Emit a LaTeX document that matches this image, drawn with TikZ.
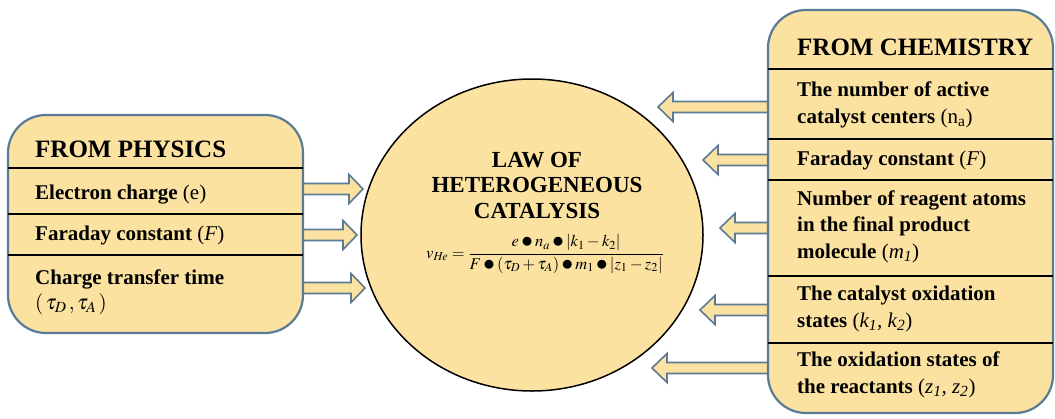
\documentclass[tikz,border=0pt]{standalone}
\usepackage{mathptmx}
\usepackage{fontspec}
\setmainfont{Liberation Serif}
\usetikzlibrary{shapes.geometric}
\definecolor{fillc}{RGB}{252,226,160}
\definecolor{edgec}{RGB}{90,122,150}
\tikzset{
  panel/.style={draw=edgec, fill=fillc, line width=2.2pt, rounded corners=38pt},
  divider/.style={draw=black, line width=1.3pt},
  law/.style={draw=black, fill=fillc, line width=1.5pt, ellipse, inner sep=0pt},
  item/.style={anchor=base west, inner sep=0pt, font=\fontsize{21}{26.5}\selectfont\bfseries, align=left},
  paneltitle/.style={anchor=base west, inner sep=0pt, font=\fontsize{25}{30}\selectfont\bfseries},
  lawtitle/.style={anchor=base, inner sep=0pt, font=\fontsize{23}{25.5}\selectfont\bfseries, align=center},
  blockarrow/.style={draw=edgec, fill=fillc, line width=1.6pt, line join=miter},
}
% right-pointing block arrow: tail x, tip x, y
\newcommand\rblockarr[3]{%
  \draw[blockarrow] (#1,#3-5.5) -- (#2-14,#3-5.5) -- (#2-14,#3-14.5) -- (#2,#3)
    -- (#2-14,#3+14.5) -- (#2-14,#3+5.5) -- (#1,#3+5.5) -- cycle;}
% left-pointing block arrow: tail x, tip x, y
\newcommand\lblockarr[3]{%
  \draw[blockarrow] (#1,#3-5.5) -- (#2+15,#3-5.5) -- (#2+15,#3-14.5) -- (#2,#3)
    -- (#2+15,#3+14.5) -- (#2+15,#3+5.5) -- (#1,#3+5.5) -- cycle;}
\newcommand\bigdot{\mathbin{\raisebox{-0.15ex}{\scalebox{1.4}{$\bullet$}}}}
\begin{document}
\begin{tikzpicture}[x=1pt,y=-1pt]
\useasboundingbox (0,0) rectangle (1055,418);

% arrows from physics
\rblockarr{298}{363}{189}
\rblockarr{298}{357}{235}
\rblockarr{298}{365}{288}
% arrows from chemistry
\lblockarr{773}{658}{107}
\lblockarr{773}{703}{160}
\lblockarr{773}{720}{228}
\lblockarr{773}{700}{310}
\lblockarr{773}{652}{368}

% central law
\node[law, minimum width=342pt, minimum height=312pt] (law) at (532,235) {};
\node[lawtitle] (lawt) at (537,218) {LAW OF\\HETEROGENEOUS\\CATALYSIS};
\node[inner sep=0pt, font=\fontsize{16.5}{19}\selectfont] (formula) at (545,254)
  {$\displaystyle v_{\mathit{He}}=\frac{e\bigdot n_a\bigdot\left|k_1-k_2\right|}{F\bigdot\left(\tau_D+\tau_A\right)\bigdot m_1\bigdot\left|z_1-z_2\right|}$};

% physics panel
\draw[panel] (8,115) rectangle (303,333);
\draw[divider] (8,168) -- (303,168);
\draw[divider] (8,214) -- (303,214);
\draw[divider] (8,255) -- (303,255);
\node[paneltitle] (pt) at (35,157) {FROM PHYSICS};
\node[item] (p1) at (35,199) {Electron charge {\mdseries(e)}};
\node[item] (p2) at (35,240) {Faraday constant {\mdseries(\textit{F})}};
\node[item, font=\fontsize{21}{25}\selectfont\bfseries] (p3) at (35,309) {Charge transfer time\\{\mdseries$(\,\tau_{D}\,,\tau_{A}\,)$}};

% chemistry panel
\draw[panel] (768,10) rectangle (1053,413);
\draw[divider] (768,69) -- (1053,69);
\draw[divider] (768,139) -- (1053,139);
\draw[divider] (768,180) -- (1053,180);
\draw[divider] (768,276) -- (1053,276);
\draw[divider] (768,343) -- (1053,343);
\node[paneltitle] (ct) at (797,55) {FROM CHEMISTRY};
\node[item] (c1) at (797,123) {The number of active\\catalyst centers {\mdseries(n\textsubscript{a})}};
\node[item] (c2) at (797,165) {Faraday constant {\mdseries(\textit{F})}};
\node[item] (c3) at (797,258) {Number of reagent atoms\\in the final product\\molecule {\mdseries(\textit{m\textsubscript{1}})}};
\node[item] (c4) at (797,327) {The catalyst oxidation\\states {\mdseries(\textit{k\textsubscript{1}, k\textsubscript{2}})}};
\node[item] (c5) at (797,393) {The oxidation states of\\the reactants {\mdseries(\textit{z\textsubscript{1}, z\textsubscript{2}})}};
\end{tikzpicture}
\end{document}
